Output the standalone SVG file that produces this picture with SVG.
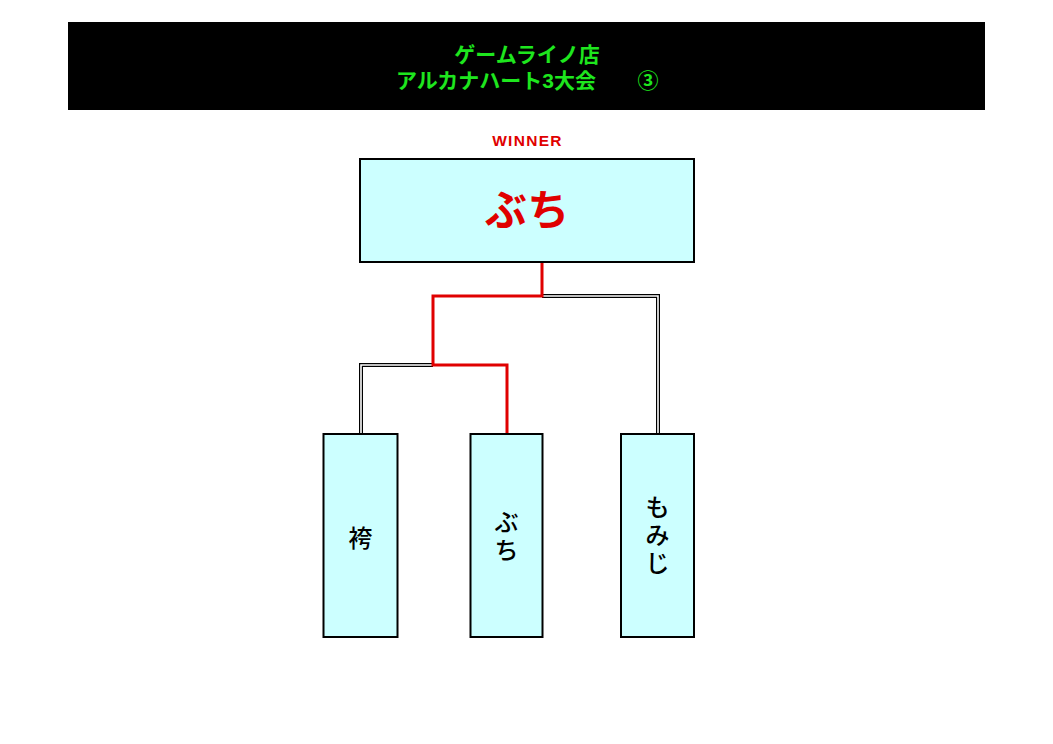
<svg xmlns="http://www.w3.org/2000/svg" width="1053" height="744" viewBox="0 0 1053 744">
<style>
.title{font-family:"Liberation Sans","Noto Sans CJK JP",sans-serif;font-weight:bold;font-size:21px;fill:#1EE61E}
.box{fill:#CCFFFF;stroke:#000;stroke-width:2}
.name{font-family:"Liberation Sans","Noto Sans CJK JP",sans-serif;font-size:24px;font-weight:500;fill:#000;text-anchor:middle}
.win{stroke:#E00000;stroke-width:3;fill:none}
.dblo{stroke:#000;stroke-width:4;fill:none}
.dbli{stroke:#fff;stroke-width:1.6;fill:none}
</style>
<rect width="1053" height="744" fill="#fff"/>
<g id="header">
<rect x="68" y="22" width="917" height="88" fill="#000"/>
<text class="title" x="527" y="62" text-anchor="middle">ゲームライノ店</text>
<text class="title" x="496" y="88" text-anchor="middle">アルカナハート3大会</text>
<text class="title" x="648" y="88" text-anchor="middle">③</text>
</g>
<g id="connectors">
<path class="dblo" d="M542 296H658V434M433 365H361V434"/>
<path class="dbli" d="M542 296H658V434M433 365H361V434"/>
<path class="win" d="M542 262V296H433V365H507V434"/>
</g>
<g id="winner">
<text x="527.5" y="146" text-anchor="middle" font-family="Liberation Sans, Noto Sans CJK JP, sans-serif" font-weight="bold" font-size="15.5" letter-spacing="1.3" fill="#E00000">WINNER</text>
<rect class="box" x="360" y="159" width="334" height="103"/>
<text x="527" y="225" text-anchor="middle" font-family="Liberation Sans, Noto Sans CJK JP, sans-serif" font-weight="bold" font-size="42" fill="#E00000">ぶち</text>
</g>
<g id="p1">
<rect class="box" x="323.5" y="434" width="74" height="203"/>
<text class="name" x="360.5" y="547">袴</text>
</g>
<g id="p2">
<rect class="box" x="470.5" y="434" width="72" height="203"/>
<text class="name" x="506.5" y="531">ぶ</text>
<text class="name" x="506.5" y="559">ち</text>
</g>
<g id="p3">
<rect class="box" x="621" y="434" width="73" height="203"/>
<text class="name" x="657.5" y="516">も</text>
<text class="name" x="657.5" y="544">み</text>
<text class="name" x="657.5" y="572">じ</text>
</g>
</svg>
